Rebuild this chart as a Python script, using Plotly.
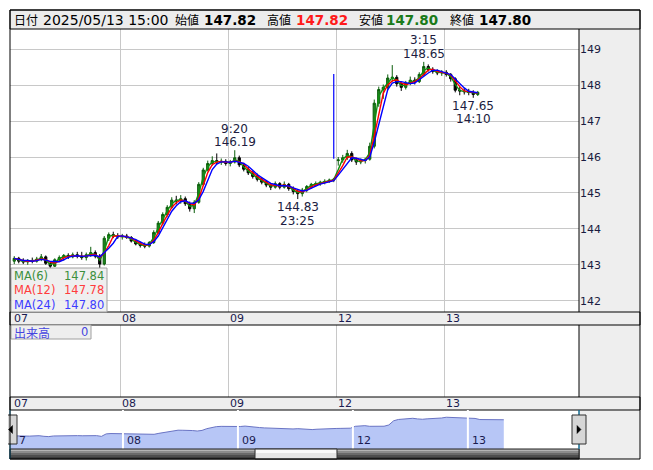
import numpy as np
import pandas as pd
import plotly.graph_objects as go

# ---------------- data (hourly candles) ----------------
day_labels = ["07", "08", "09", "12", "13"]
day_start_hours = [0, 24, 48, 72, 96]

opens = [143.10,143.18,143.10,143.08,143.12,143.10,143.16,143.22,143.04,142.96,
         143.14,143.20,143.26,143.22,143.28,143.24,143.20,143.28,143.34,143.24,
         143.02,143.74,143.84,143.80,143.78,143.80,143.76,143.66,143.58,143.54,
         143.52,143.62,143.90,144.16,144.40,144.60,144.80,144.78,144.84,144.70,
         144.56,144.74,145.24,145.64,145.82,145.90,145.86,145.88,145.82,145.86,
         145.98,145.78,145.66,145.56,145.46,145.38,145.30,145.22,145.16,145.26,
         145.16,145.24,145.12,145.04,144.98,145.08,145.18,145.24,145.26,145.30,
         145.32,145.36,145.90,145.92,145.98,146.10,145.92,145.86,145.90,145.94,
         146.30,147.50,147.88,147.94,148.20,148.22,148.04,147.94,148.06,148.14,
         148.10,148.30,148.52,148.44,148.38,148.34,148.36,148.30,148.18,147.86,
         147.84,147.82,147.80,147.74]
highs = [143.24,143.22,143.18,143.16,143.20,143.22,143.30,143.26,143.10,143.18,
         143.26,143.30,143.32,143.34,143.36,143.36,143.34,143.50,143.40,143.30,
         143.80,143.90,143.92,143.88,143.86,143.86,143.80,143.72,143.64,143.62,
         143.66,143.96,144.22,144.46,144.66,144.88,144.92,144.94,144.90,144.76,
         144.80,145.30,145.70,145.90,146.02,146.10,145.96,145.94,145.92,146.19,
         146.04,145.84,145.72,145.62,145.54,145.44,145.36,145.28,145.32,145.30,
         145.32,145.28,145.18,145.10,145.14,145.22,145.28,145.32,145.34,145.38,
         145.40,145.42,146.00,146.06,146.20,146.16,145.98,145.96,145.98,146.40,
         147.60,147.96,148.02,148.30,148.56,148.28,148.08,148.12,148.24,148.22,
         148.36,148.65,148.58,148.50,148.44,148.42,148.42,148.34,148.22,147.96,
         147.92,147.90,147.86,147.84]
lows = [143.02,143.04,143.02,143.00,143.04,143.06,143.10,143.00,142.88,142.94,
        143.08,143.12,143.16,143.18,143.18,143.14,143.12,143.22,143.18,142.90,
        142.98,143.66,143.74,143.72,143.70,143.72,143.62,143.54,143.48,143.46,
        143.48,143.58,143.86,144.10,144.34,144.56,144.68,144.70,144.64,144.48,
        144.44,144.70,145.20,145.60,145.76,145.80,145.78,145.76,145.74,145.82,
        145.72,145.60,145.50,145.40,145.32,145.24,145.16,145.08,145.12,145.10,
        145.12,145.06,144.96,144.83,144.90,145.02,145.12,145.18,145.20,145.24,
        145.28,145.30,145.76,145.84,145.92,145.86,145.78,145.80,145.82,145.90,
        146.24,147.40,147.62,147.86,148.10,147.96,147.84,147.88,148.00,148.02,
        148.06,148.26,148.38,148.32,148.28,148.26,148.24,148.10,147.80,147.72,
        147.74,147.72,147.65,147.70]
closes = [143.18,143.10,143.08,143.12,143.10,143.16,143.22,143.04,142.96,143.14,
          143.20,143.26,143.22,143.28,143.24,143.20,143.28,143.34,143.24,143.02,
          143.74,143.84,143.80,143.78,143.80,143.76,143.66,143.58,143.54,143.52,
          143.62,143.90,144.16,144.40,144.60,144.80,144.78,144.84,144.70,144.56,
          144.74,145.24,145.64,145.82,145.90,145.86,145.88,145.82,145.86,145.98,
          145.78,145.66,145.56,145.46,145.38,145.30,145.22,145.16,145.26,145.16,
          145.24,145.12,145.04,144.98,145.08,145.18,145.24,145.26,145.30,145.32,
          145.36,145.38,145.92,145.98,146.10,145.92,145.86,145.90,145.94,146.30,
          147.50,147.88,147.94,148.20,148.22,148.04,147.94,148.06,148.14,148.10,
          148.30,148.52,148.44,148.38,148.34,148.36,148.30,148.18,147.86,147.84,
          147.82,147.80,147.74,147.80]

ma_names = ["MA(6)", "MA(12)", "MA(24)"]
ma_windows_hourly = [2, 3, 4]          # rolling windows on the hourly candles
ma_last_text = ["147.84", "147.78", "147.80"]
ma_line_colors = ["#109010", "#ff0000", "#0000ff"]
ma_text_colors = ["#3c8f3c", "#ff3c3c", "#3c3cff"]

spike_idx = 71
spike_vals = [145.95, 148.31]

ext_idx = [49, 63, 91, 102]
ext_time = ["9:20", "23:25", "3:15", "14:10"]
ext_val = ["146.19", "144.83", "148.65", "147.65"]
ext_kind = ["high", "low", "high", "low"]

header_labels = ["日付", "始値", "高値", "安値", "終値"]
header_date = "2025/05/13 15:00"
header_values = ["147.82", "147.82", "147.80", "147.80"]
header_value_colors = ["#000000", "#ff1a1a", "#1a7a1a", "#000000"]

price_ticks = [142, 143, 144, 145, 146, 147, 148, 149]

# ---------------- geometry helpers ----------------
# the page body adds an 8px margin, so figure pixel = screen pixel - 8
OFF = 8
W, H = 637, 454
def PX(p): return (p - OFF) / W
def PY(p): return 1 - (p - OFF) / H

L, R, FR = 10, 579, 640
xc = np.arange(len(closes)) + 0.5          # candle centre, hours since 07 open
cl = pd.Series(closes)

fig = go.Figure()
fig.add_trace(go.Candlestick(
    x=xc, open=opens, high=highs, low=lows, close=closes,
    increasing=dict(line=dict(color="#0b5e0b", width=1), fillcolor="#1f8a1f"),
    decreasing=dict(line=dict(color="#000000", width=1), fillcolor="#000000"),
    whiskerwidth=0, showlegend=False, hoverinfo="skip", xaxis="x", yaxis="y"))
fig.add_trace(go.Scatter(x=[xc[spike_idx]] * 2, y=spike_vals, mode="lines",
                         line=dict(color="#0000ff", width=1.2), showlegend=False,
                         hoverinfo="skip", xaxis="x", yaxis="y"))
for w, c in zip(ma_windows_hourly, ma_line_colors):
    fig.add_trace(go.Scatter(x=xc, y=cl.rolling(w, min_periods=1).mean(), mode="lines",
                             line=dict(color=c, width=1.4), showlegend=False,
                             hoverinfo="skip", xaxis="x", yaxis="y"))
# volume panel (empty)
fig.add_trace(go.Scatter(x=[None], y=[None], xaxis="x2", yaxis="y2", showlegend=False))
# navigator
fig.add_trace(go.Scatter(x=xc, y=closes, mode="lines", fill="tozeroy",
                         fillcolor="#b7c6f6", line=dict(color="#6a74c4", width=1),
                         showlegend=False, hoverinfo="skip", xaxis="x3", yaxis="y3"))

grid = "#c8c8c8"
xdom = [PX(L), PX(R)]
fig.update_layout(
    width=W, height=H, margin=dict(l=0, r=0, t=0, b=0),
    paper_bgcolor="white", plot_bgcolor="white",
    font=dict(family="DejaVu Sans", size=11, color="#1a1a40"),
    xaxis=dict(domain=xdom, range=[-0.444, 126.0], tickvals=day_start_hours[1:],
               showticklabels=False, showgrid=True, gridcolor=grid, zeroline=False,
               rangeslider=dict(visible=False), fixedrange=True, anchor="y"),
    yaxis=dict(domain=[PY(312), PY(29)], range=[141.685, 149.565], side="right",
               tickvals=price_ticks, showgrid=True, gridcolor=grid, zeroline=False,
               tickfont=dict(size=11, color="#1a1a40"), ticks="", anchor="x"),
    xaxis2=dict(domain=xdom, range=[-0.444, 126.0], tickvals=day_start_hours[1:],
                showticklabels=False, showgrid=True, gridcolor=grid, zeroline=False,
                anchor="y2"),
    yaxis2=dict(domain=[PY(397), PY(325)], range=[0, 1], showgrid=False,
                showticklabels=False, zeroline=False, anchor="x2"),
    xaxis3=dict(domain=xdom, range=[0.418, 119.2], showgrid=False,
                showticklabels=False, zeroline=False, anchor="y3"),
    yaxis3=dict(domain=[PY(449), PY(410)], range=[139.4, 150.6], showgrid=False,
                showticklabels=False, zeroline=False, anchor="x3"),
)

shapes = []
def rect(x0, y0, x1, y1, fill=None, line="#000000", lw=1, layer="above"):
    shapes.append(dict(type="rect", xref="paper", yref="paper",
                       x0=PX(x0), x1=PX(x1), y0=PY(y1), y1=PY(y0),
                       fillcolor=fill if fill else "rgba(0,0,0,0)",
                       line=dict(color=line, width=lw), layer=layer))
def vline(x, y0, y1, color="#000000", lw=1):
    shapes.append(dict(type="line", xref="paper", yref="paper", x0=PX(x), x1=PX(x),
                       y0=PY(y0), y1=PY(y1), line=dict(color=color, width=lw), layer="above"))
def tri(pts, color="#000000"):
    p = "M " + " L ".join(f"{PX(a)},{PY(b)}" for a, b in pts) + " Z"
    shapes.append(dict(type="path", xref="paper", yref="paper", path=p,
                       fillcolor=color, line=dict(color=color, width=0.5), layer="above"))

rect(R, 29, FR, 459, fill="#eeeeee", lw=0, layer="below")
rect(L, 10, FR, 29, fill="#ececec")
rect(L, 312, FR, 325, fill="#eeeeee")
rect(L, 397, FR, 410, fill="#eeeeee")
vline(R, 29, 312); vline(R, 325, 397); vline(R, 410, 459)
# navigator day separators
for d in day_start_hours[1:]:
    shapes.append(dict(type="line", xref="x3", yref="paper", x0=d, x1=d,
                       y0=PY(449), y1=PY(410), line=dict(color="white", width=2), layer="above"))
# scrollbar
sb_cols = ["#b4b4b4", "#8c8c8c", "#6a6a6a", "#4e4e4e", "#3c3c3c"]
for i, c in enumerate(sb_cols):
    rect(L, 449 + 2 * i, R, 451 + 2 * i, fill=c, lw=0)
rect(L, 449, R, 459, line="#202020")
rect(255, 449, 337, 459, fill="#e6e6e6", line="#303030")
rect(256, 450, 336, 453, fill="#fafafa", lw=0)
vline(L, 410, 459, color="#1ea0d8"); vline(R, 410, 449, color="#1ea0d8")
# buttons
rect(4, 415, 17, 444, fill="#d6d6d6", line="#303030")
tri([(12.5, 425.5), (8.5, 429.5), (12.5, 433.5)])
rect(572, 415, 586, 444, fill="#d6d6d6", line="#303030")
tri([(577, 425.5), (581, 429.5), (577, 433.5)])
# legend boxes
rect(11, 268, 107, 312, fill="rgba(238,238,238,0.92)", line="#a0a0a0")
rect(11, 325, 91, 339, fill="#eeeeee", line="#a0a0a0")
rect(L, 10, FR, 459)
fig.update_layout(shapes=shapes)

ann = []
def txt(x, y, s, size=11, color="#1a1a40", anchor="left", family="DejaVu Sans", **kw):
    ann.append(dict(x=PX(x), y=PY(y), xref="paper", yref="paper", text=s, showarrow=False,
                    xanchor=anchor, yanchor="middle", font=dict(size=size, color=color, family=family), **kw))

# header
lab_x = [12, 173, 265, 357, 448]
val_x = [202, 294, 384, 477]
for s, x in zip(header_labels, lab_x):
    txt(x, 20, s, size=12, color="#000000", family="Noto Sans CJK JP")
txt(41, 20, header_date, size=14, color="#000000")
for s, x, c in zip(header_values, val_x, header_value_colors):
    txt(x, 20, f"<b>{s}</b>", size=13.5, color=c)

# date strips
for lab, d in zip(day_labels, day_start_hours):
    for yy in (318.5, 403.5):
        ann.append(dict(x=d, y=PY(yy), xref="x", yref="paper", text=lab, showarrow=False,
                        xanchor="left", yanchor="middle", xshift=0,
                        font=dict(size=11, color="#1a1a50", family="DejaVu Sans")))
# navigator labels (the first one is half hidden by the scroll button)
for lab, d in zip(day_labels[1:], day_start_hours[1:]):
    ann.append(dict(x=d, y=PY(440), xref="x3", yref="paper", text=lab,
                    showarrow=False, xanchor="left", yanchor="middle", xshift=2,
                    font=dict(size=11, color="#1a1a50", family="DejaVu Sans")))
txt(17, 440, day_labels[0][-1], size=11, color="#1a1a50")

# MA legend
for i, (n, v, c) in enumerate(zip(ma_names, ma_last_text, ma_text_colors)):
    txt(12, 275.5 + 14.5 * i, n, size=11.5, color=c)
    txt(106, 275.5 + 14.5 * i, v, size=11.5, color=c, anchor="right")
txt(12, 332, "出来高", size=12, color="#4545e0", family="Noto Sans CJK JP")
txt(90, 332, "0", size=11.5, color="#4545e0", anchor="right")

# extremes: value nearest the extreme, time one line further out
for i, t, v, k in zip(ext_idx, ext_time, ext_val, ext_kind):
    sgn = 1 if k == "high" else -1
    for s, sh in ((v, 8), (t, 21.5)):
        ann.append(dict(x=xc[i], y=float(v), xref="x", yref="y", text=s, showarrow=False,
                        xanchor="center", yanchor="middle", yshift=sgn * sh,
                        font=dict(size=12, color="#201c40", family="DejaVu Sans")))

fig.update_layout(annotations=ann)
fig.write_html("out.html")
